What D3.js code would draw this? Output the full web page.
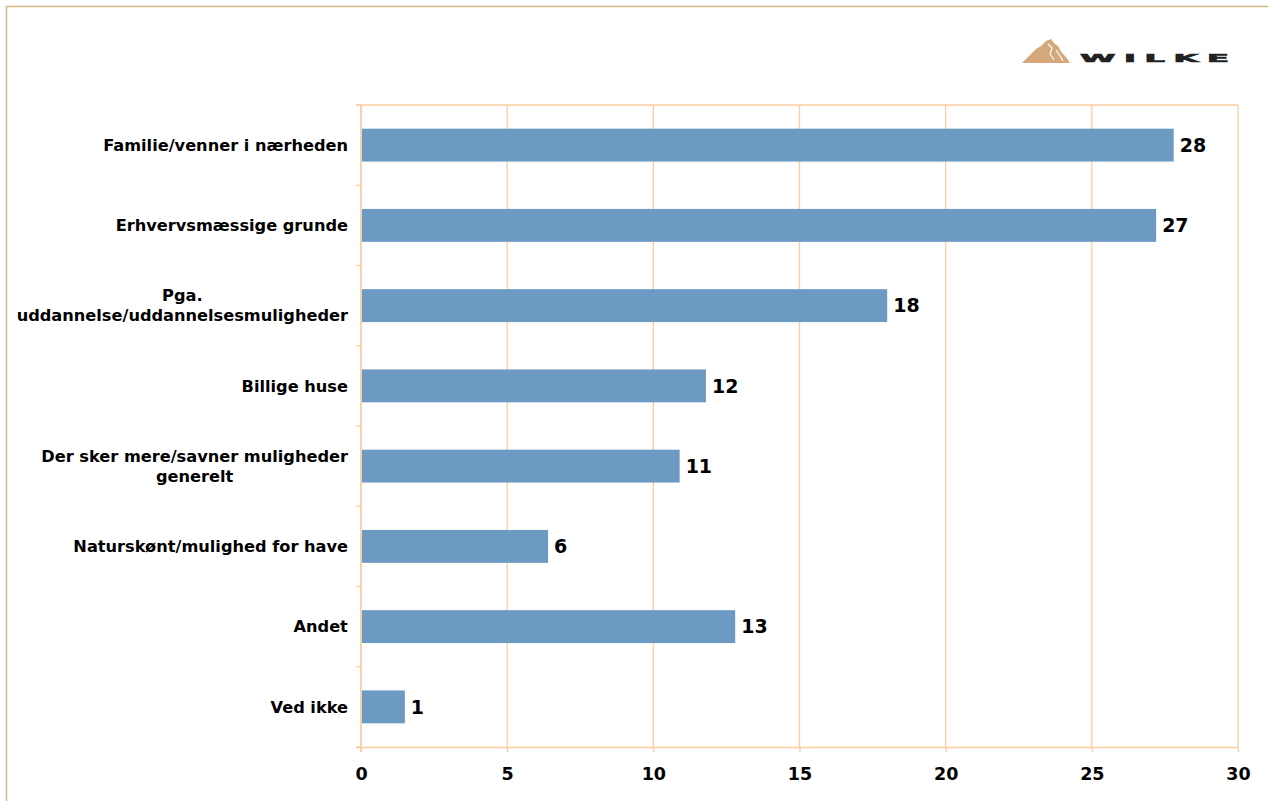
<!DOCTYPE html>
<html><head><meta charset="utf-8">
<script src="https://cdn.jsdelivr.net/npm/d3@7"></script>
<style>body{margin:0;background:#fff}svg{display:block}</style>
</head><body><svg id="c" width="1268" height="801"></svg>
<script>
const categories = [
  ["Familie/venner i nærheden"],
  ["Erhvervsmæssige grunde"],
  ["Pga.", "uddannelse/uddannelsesmuligheder"],
  ["Billige huse"],
  ["Der sker mere/savner muligheder", "generelt"],
  ["Naturskønt/mulighed for have"],
  ["Andet"],
  ["Ved ikke"]
];
const values = [27.8, 27.2, 18.0, 11.8, 10.9, 6.4, 12.8, 1.5];
const valueLabels = ["28", "27", "18", "12", "11", "6", "13", "1"];
const xTicks = [0, 5, 10, 15, 20, 25, 30];

const svg = d3.select("#c");
const m = {left: 361, right: 1238, top: 105, bottom: 747};
const gridCol = "#fbcd9f";
const font = "DejaVu Sans, Verdana, sans-serif";

// outer frame
svg.append("path").attr("d", "M6.5,801 V6.5 H1268").attr("fill", "none")
  .attr("stroke", "#d3b787").attr("stroke-width", 1.5);

const x = d3.scaleLinear().domain([0, 30]).range([m.left, m.right]);
const y = d3.scaleBand().domain(d3.range(categories.length)).range([m.top, m.bottom]).paddingInner(0.59).paddingOuter(0.295);
const yb = d3.scaleBand().domain(d3.range(categories.length)).range([m.top, m.bottom]);

// gridlines
svg.append("g").selectAll("line").data(xTicks.slice(1)).join("line")
  .attr("x1", d => x(d)).attr("x2", d => x(d)).attr("y1", m.top).attr("y2", m.bottom)
  .attr("stroke", gridCol).attr("stroke-width", 1.3);
// top line
svg.append("line").attr("x1", m.left - 5).attr("x2", m.right).attr("y1", m.top).attr("y2", m.top)
  .attr("stroke", gridCol).attr("stroke-width", 1.3);

// x axis
const xa = svg.append("g").attr("transform", `translate(0,${m.bottom})`)
  .call(d3.axisBottom(x).tickValues(xTicks).tickSize(5).tickPadding(16).tickSizeOuter(0));
xa.select(".domain").attr("stroke", gridCol).attr("stroke-width", 1.5)
  .attr("d", `M${m.left - 5},0.5H${m.right}`);
xa.selectAll(".tick line").attr("stroke", gridCol).attr("stroke-width", 1.3);
xa.selectAll(".tick text").attr("font-family", font).attr("font-weight", "bold")
  .attr("font-size", 17.5).attr("fill", "#000");

// y axis line + band ticks
svg.append("line").attr("x1", m.left).attr("x2", m.left).attr("y1", m.top).attr("y2", m.bottom + 5)
  .attr("stroke", gridCol).attr("stroke-width", 1.8);
svg.append("g").selectAll("line").data(d3.range(categories.length + 1)).join("line")
  .attr("x1", m.left - 5).attr("x2", m.left).attr("y1", d => yb.step() * d + m.top).attr("y2", d => yb.step() * d + m.top)
  .attr("stroke", gridCol).attr("stroke-width", 1.3);

// bars
svg.append("g").selectAll("rect").data(values).join("rect")
  .attr("x", x(0) + 1).attr("y", (d, i) => y(i)).attr("width", d => x(d) - x(0) - 1).attr("height", y.bandwidth())
  .attr("fill", "#6c9ac3");

// value labels
svg.append("g").selectAll("text").data(values).join("text")
  .attr("x", d => x(d) + 6).attr("y", (d, i) => y(i) + y.bandwidth() / 2).attr("dy", "0.36em")
  .attr("font-family", font).attr("font-weight", "bold").attr("font-size", 19).attr("fill", "#000")
  .text((d, i) => valueLabels[i]);

// category labels (lines centred among themselves, block right-aligned to axis)
const cl = svg.append("g").selectAll("text").data(categories).join("text")
  .attr("text-anchor", "middle").attr("font-family", font).attr("font-weight", "bold")
  .attr("font-size", 16.2).attr("fill", "#000");
cl.each(function(lines, i) {
  const t = d3.select(this);
  const cy = y(i) + y.bandwidth() / 2;
  const lh = 20;
  const start = cy - (lines.length - 1) * lh / 2;
  lines.forEach((ln, k) => {
    t.append("tspan").attr("x", 0).attr("y", start + k * lh).attr("dy", "0.36em").text(ln);
  });
  const w = this.getBBox().width;
  t.selectAll("tspan").attr("x", (m.left - 13) - w / 2);
});

// logo
const logo = svg.append("g");
logo.append("path").attr("d", "M1022,63 L1036,49 L1041,46 L1046,41 L1051,39 L1054,43 L1058,46 L1062,53 L1066,57 L1070,63 Z")
  .attr("fill", "#d4a87a");
logo.append("path").attr("d", "M1048,44 L1052,48 L1050,54 L1054,60 M1056,50 L1060,56 L1063,61")
  .attr("stroke", "#fff").attr("stroke-width", 1.2).attr("fill", "none");
logo.append("text").attr("x", 0).attr("y", 0)
  .attr("transform", "translate(1080,62) scale(2.3,0.72)")
  .attr("font-family", "DejaVu Sans, sans-serif").attr("font-weight", "bold").attr("font-size", 14)
  .attr("letter-spacing", 3.2).attr("fill", "#222").attr("stroke", "#222").attr("stroke-width", 0.8)
  .attr("textLength", 68).attr("lengthAdjust", "spacing").text("WILKE");
</script></body></html>
